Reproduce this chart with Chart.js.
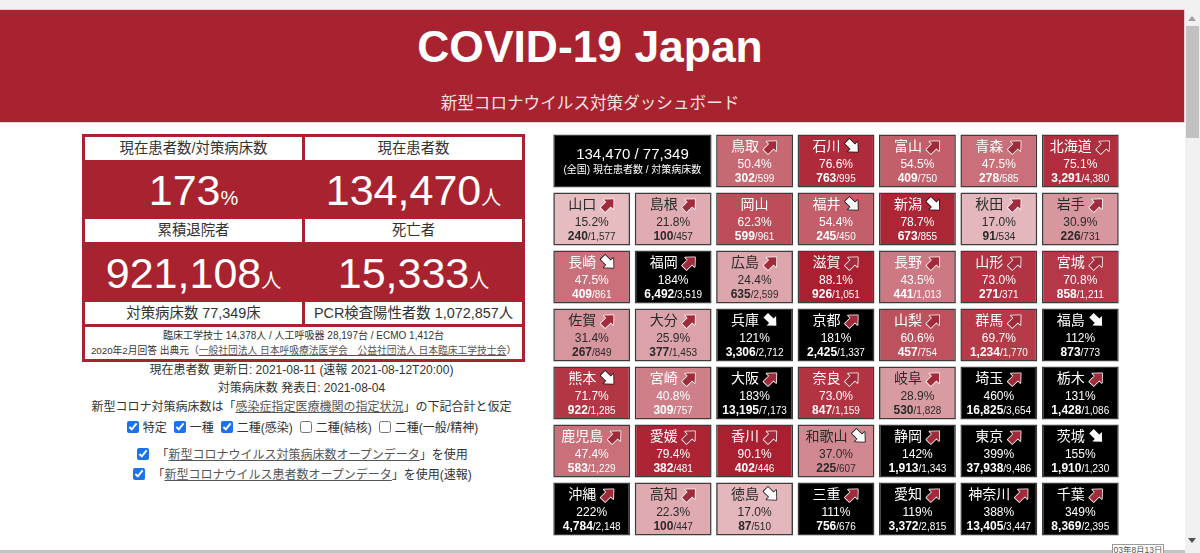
<!DOCTYPE html>
<html lang="ja">
<head>
<meta charset="utf-8">
<title>COVID-19 Japan</title>
<script src="https://cdn.jsdelivr.net/npm/chart.js@4"></script>
<style>
  html, body { margin: 0; padding: 0; background: #fff; overflow: hidden; }
  body { width: 1200px; height: 553px; position: relative; font-family: "Liberation Sans", "Noto Sans CJK JP", sans-serif; color: #333; }
  .abs { position: absolute; }
  .topband { left: 0; top: 0; width: 1200px; height: 9px; background: #f1f1f1; }
  .header { left: 0; top: 10px; width: 1184px; height: 112px; background: #a8232f; color: #fff; text-align: center; box-shadow: 0 0 0 1px #eccdd1; }
  .header h1 { position: absolute; left: 0; width: 1180px; top: 11px; margin: 0; font-size: 44.4px; line-height: 52px; font-weight: bold; }
  .header p { position: absolute; left: 0; width: 1180px; top: 84px; margin: 0; font-size: 16.6px; line-height: 20px; color: #f3e2e4; }
  .panel { left: 82px; top: 134px; width: 443px; height: 228px; background: #a8232f; }
  .cell { position: absolute; background: #fff; text-align: center; color: #333; font-size: 14.4px; }
  .big { position: absolute; color: #fff; text-align: center; font-size: 43px; line-height: 50px; white-space: nowrap; }
  .big small { font-size: 20px; }
  .line { left: 60.5px; width: 482px; text-align: center; white-space: nowrap; color: #333; font-size: 12px; line-height: 16px; }
  .shifted { left: 58px; }
  .line a, .cell a { color: #555; text-decoration: underline; }
  input[type=checkbox] { accent-color: #1a73e8; margin: 0 4px 0 7px; width: 12px; height: 12px; vertical-align: -1px; }
  #tiles { position: absolute; left: 551px; top: 132px; width: 570px; height: 406px; }
  .vbar { left: 1185px; top: 9px; width: 15px; height: 544px; background: #f1f1f1; }
  .thumb { left: 1186px; top: 26px; width: 13px; height: 112px; background: #c1c1c1; }
  .hbar { left: 0; top: 550px; width: 1185px; height: 3px; background: #c4c4c4; }
  .stamp { left: 1112px; top: 544px; width: 50px; height: 9px; background: #fff; border: 1px solid #999; border-bottom: 0; font-size: 8.5px; line-height: 10px; text-align: center; color: #555; white-space: nowrap; overflow: hidden; }
  .down { left: 1188px; top: 538px; width: 0; height: 0; border-left: 4px solid transparent; border-right: 4px solid transparent; border-top: 5px solid #505050; }
  .up { left: 1188px; top: 16px; width: 0; height: 0; border-left: 4px solid transparent; border-right: 4px solid transparent; border-bottom: 5px solid #a0a0a0; }
</style>
</head>
<body>
<div class="abs topband"></div>
<div class="abs header">
  <h1>COVID-19 Japan</h1>
  <p>新型コロナウイルス対策ダッシュボード</p>
</div>

<div class="abs panel">
  <div class="cell" style="left:3px;top:3px;width:217px;height:23px;line-height:23px">現在患者数/対策病床数</div>
  <div class="cell" style="left:223px;top:3px;width:217px;height:23px;line-height:23px">現在患者数</div>
  <div class="big" style="left:3px;top:31px;width:217px">173<small>%</small></div>
  <div class="big" style="left:223px;top:31px;width:217px">134,470<small>人</small></div>
  <div class="cell" style="left:3px;top:85px;width:217px;height:23px;line-height:23px">累積退院者</div>
  <div class="cell" style="left:223px;top:85px;width:217px;height:23px;line-height:23px">死亡者</div>
  <div class="big" style="left:3px;top:114px;width:217px">921,108<small>人</small></div>
  <div class="big" style="left:223px;top:114px;width:217px">15,333<small>人</small></div>
  <div class="cell" style="left:3px;top:168px;width:217px;height:22px;line-height:22px">対策病床数 77,349床</div>
  <div class="cell" style="left:223px;top:168px;width:217px;height:22px;line-height:22px">PCR検査陽性者数 1,072,857人</div>
  <div class="cell" style="left:3px;top:193px;width:437px;height:32px;font-size:10px;line-height:15px;padding-top:1px;box-sizing:border-box">臨床工学技士 14,378人 / 人工呼吸器 28,197台 / ECMO 1,412台<br><span style="font-size:9.75px">2020年2月回答 出典元（<a>一般社団法人 日本呼吸療法医学会　公益社団法人 日本臨床工学技士会</a>）</span></div>
</div>

<div class="abs line" style="top:362px">現在患者数 更新日: 2021-08-11 (速報 2021-08-12T20:00)</div>
<div class="abs line" style="top:380px">対策病床数 発表日: 2021-08-04</div>
<div class="abs line" style="top:399px">新型コロナ対策病床数は「<a>感染症指定医療機関の指定状況</a>」の下記合計と仮定</div>
<div class="abs line shifted" style="top:420px"><input type="checkbox" checked>特定<input type="checkbox" checked>一種<input type="checkbox" checked>二種(感染)<input type="checkbox">二種(結核)<input type="checkbox">二種(一般/精神)</div>
<div class="abs line shifted" style="top:447px"><input type="checkbox" checked> 「<a>新型コロナウイルス対策病床数オープンデータ</a>」を使用</div>
<div class="abs line shifted" style="top:467px"><input type="checkbox" checked> 「<a>新型コロナウイルス患者数オープンデータ</a>」を使用(速報)</div>

<canvas id="tiles" width="570" height="406"></canvas>

<div class="abs vbar"></div>
<div class="abs thumb"></div>
<div class="abs up"></div>
<div class="abs down"></div>
<div class="abs hbar"></div>
<div class="abs stamp">03年8月13日</div>

<script>
// first row starts after the national summary tile, which takes two slots
const summaryTop = "134,470 / 77,349";
const summarySub = "(全国) 現在患者数 / 対策病床数";

const names = [
  "鳥取", "石川", "富山", "青森", "北海道",
  "山口", "島根", "岡山", "福井", "新潟", "秋田", "岩手",
  "長崎", "福岡", "広島", "滋賀", "長野", "山形", "宮城",
  "佐賀", "大分", "兵庫", "京都", "山梨", "群馬", "福島",
  "熊本", "宮崎", "大阪", "奈良", "岐阜", "埼玉", "栃木",
  "鹿児島", "愛媛", "香川", "和歌山", "静岡", "東京", "茨城",
  "沖縄", "高知", "徳島", "三重", "愛知", "神奈川", "千葉",
];
const percents = [
  50.4, 76.6, 54.5, 47.5, 75.1,
  15.2, 21.8, 62.3, 54.4, 78.7, 17.0, 30.9,
  47.5, 184, 24.4, 88.1, 43.5, 73.0, 70.8,
  31.4, 25.9, 121, 181, 60.6, 69.7, 112,
  71.7, 40.8, 183, 73.0, 28.9, 460, 131,
  47.4, 79.4, 90.1, 37.0, 142, 399, 155,
  222, 22.3, 17.0, 111, 119, 388, 349,
];
const patients = [
  302, 763, 409, 278, 3291,
  240, 100, 599, 245, 673, 91, 226,
  409, 6492, 635, 926, 441, 271, 858,
  267, 377, 3306, 2425, 457, 1234, 873,
  922, 309, 13195, 847, 530, 16825, 1428,
  583, 382, 402, 225, 1913, 37938, 1910,
  4784, 100, 87, 756, 3372, 13405, 8369,
];
const beds = [
  599, 995, 750, 585, 4380,
  1577, 457, 961, 450, 855, 534, 731,
  861, 3519, 2599, 1051, 1013, 371, 1211,
  849, 1453, 2712, 1337, 754, 1770, 773,
  1285, 757, 7173, 1159, 1828, 3654, 1086,
  1229, 481, 446, 607, 1343, 9486, 1230,
  2148, 447, 510, 676, 2815, 3447, 2395,
];
// u = up, d = down, "" = no arrow
const trends = [
  "u", "d", "u", "u", "u",
  "u", "u", "", "d", "d", "u", "u",
  "d", "u", "u", "u", "u", "u", "u",
  "u", "u", "d", "u", "u", "u", "d",
  "d", "u", "u", "u", "u", "u", "u",
  "u", "u", "u", "d", "u", "u", "d",
  "u", "u", "d", "u", "u", "u", "u",
];

const COLS = 7;
const ROWS = 7;
const rowLabels = ["1", "2", "3", "4", "5", "6", "7"];

function tileColor(p) {
  if (p >= 100) return "#000";
  const a = Math.min(1, 0.14 + p * 0.0106);
  return `rgba(171,32,48,${a.toFixed(3)})`;
}

// one dataset per column, tiles are floating horizontal bars
const datasets = [];
for (let c = 0; c < COLS; c++) {
  datasets.push({ data: [], backgroundColor: [], tileIdx: [] });
}
let idx = 0;
for (let r = 0; r < ROWS; r++) {
  for (let c = 0; c < COLS; c++) {
    const ds = datasets[c];
    if (r === 0 && c === 0) {
      ds.data.push([c + 0.028, c + 1.972]);
      ds.backgroundColor.push("#000");
      ds.tileIdx.push(-1);
    } else if (r === 0 && c === 1) {
      ds.data.push(null);
      ds.backgroundColor.push("#000");
      ds.tileIdx.push(null);
    } else {
      ds.data.push([c + 0.028, c + 0.972]);
      ds.backgroundColor.push(tileColor(percents[idx]));
      ds.tileIdx.push(idx);
      idx++;
    }
  }
}

function fmtPct(p) {
  return p >= 100 ? p + "%" : p.toFixed(1) + "%";
}

function arrowPath(ctx, s) {
  // arrow pointing right, centred on origin
  ctx.beginPath();
  ctx.moveTo(s, 0);
  ctx.lineTo(s * 0.05, -s * 0.9);
  ctx.lineTo(s * 0.05, -s * 0.42);
  ctx.lineTo(-s, -s * 0.42);
  ctx.lineTo(-s, s * 0.42);
  ctx.lineTo(s * 0.05, s * 0.42);
  ctx.lineTo(s * 0.05, s * 0.9);
  ctx.closePath();
}

function drawArrow(ctx, x, y, trend, black) {
  ctx.save();
  ctx.translate(x, y);
  ctx.rotate(trend === "u" ? -Math.PI / 4 : Math.PI / 4);
  arrowPath(ctx, 7.5);
  ctx.lineJoin = "round";
  ctx.lineWidth = 1.6;
  if (trend === "u") {
    ctx.fillStyle = "#a12b3a";
    ctx.strokeStyle = "#fff";
  } else {
    ctx.fillStyle = "#fff";
    ctx.strokeStyle = black ? "#000" : "#111";
  }
  ctx.stroke();
  ctx.fill();
  ctx.restore();
}

const FONT = '"Liberation Sans", "Noto Sans CJK JP", sans-serif';

const tileText = {
  id: "tileText",
  afterDatasetsDraw(chart) {
    const ctx = chart.ctx;
    chart.data.datasets.forEach((ds, di) => {
      chart.getDatasetMeta(di).data.forEach((bar, r) => {
        const i = ds.tileIdx[r];
        if (i === null || i === undefined) return;
        const p = bar.getProps(["x", "y", "base", "height"], true);
        const cx = (p.x + p.base) / 2;
        const top = p.y - p.height / 2;
        ctx.save();
        ctx.textBaseline = "middle";
        if (i === -1) {
          ctx.fillStyle = "#fff";
          ctx.textAlign = "center";
          ctx.font = "15px " + FONT;
          ctx.fillText(summaryTop, cx, top + 20.5);
          ctx.font = "10px " + FONT;
          ctx.fillText(summarySub, cx, top + 36);
          ctx.restore();
          return;
        }
        const pct = percents[i];
        const light = pct >= 40;
        ctx.fillStyle = light ? "#fff" : "#2a2a2a";

        // name + arrow centred as a group
        ctx.font = "14px " + FONT;
        const nameW = ctx.measureText(names[i]).width;
        const groupW = nameW + (trends[i] ? 19 : 0);
        const nx = cx - groupW / 2;
        ctx.textAlign = "left";
        ctx.fillText(names[i], nx, top + 12.5);
        if (trends[i]) drawArrow(ctx, nx + nameW + 12, top + 12, trends[i], pct >= 100);

        ctx.textAlign = "center";
        ctx.font = "12px " + FONT;
        ctx.fillText(fmtPct(pct), cx, top + 30);

        // patients bold, beds small
        const a = patients[i].toLocaleString("en-US");
        const b = "/" + beds[i].toLocaleString("en-US");
        ctx.font = "bold 12px " + FONT;
        const aw = ctx.measureText(a).width;
        ctx.font = "10px " + FONT;
        const bw = ctx.measureText(b).width;
        const sx = cx - (aw + bw) / 2;
        ctx.textAlign = "left";
        ctx.font = "bold 12px " + FONT;
        ctx.fillText(a, sx, top + 44);
        ctx.font = "10px " + FONT;
        ctx.fillText(b, sx + aw, top + 44.5);
        ctx.restore();
      });
    });
  },
};

new Chart(document.getElementById("tiles"), {
  type: "bar",
  data: { labels: rowLabels, datasets },
  options: {
    indexAxis: "y",
    responsive: false,
    animation: false,
    layout: { padding: 0 },
    datasets: {
      bar: {
        grouped: false,
        categoryPercentage: 1,
        barPercentage: 0.914,
        borderWidth: 1.5,
        borderColor: "#3c3c3c",
        borderSkipped: false,
      },
    },
    plugins: { legend: { display: false }, tooltip: { enabled: false } },
    scales: {
      x: { display: false, min: 0, max: COLS },
      y: { display: false },
    },
  },
  plugins: [tileText],
});
</script>
</body>
</html>
